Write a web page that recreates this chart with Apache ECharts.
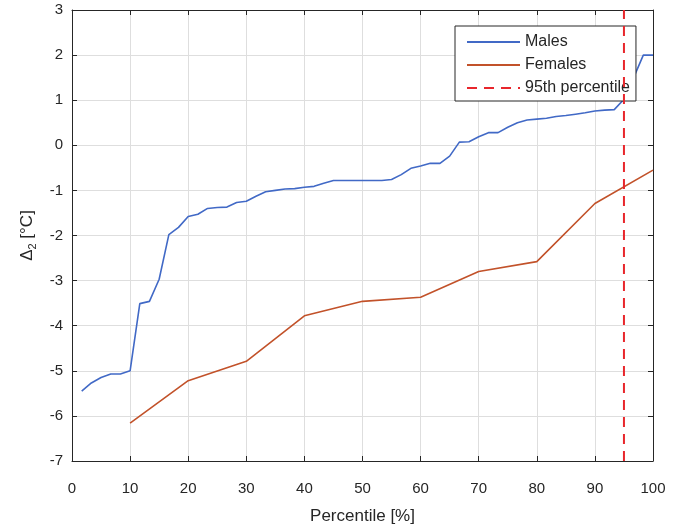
<!DOCTYPE html>
<html>
<head>
<meta charset="utf-8">
<script src="https://cdn.jsdelivr.net/npm/echarts@6/dist/echarts.min.js"></script>
<style>html,body{margin:0;padding:0;background:#fff}#c{width:680px;height:530px}</style>
</head>
<body>
<div id="c"></div>
<script>
// Males: percentile (x) and Δ2 (y)
var malesX = [1.67,3.33,5,6.67,8.33,10,11.67,13.33,15,16.67,18.33,20,21.67,23.33,25,26.67,28.33,30,31.67,33.33,35,36.67,38.33,40,41.67,43.33,45,46.67,48.33,50,51.67,53.33,55,56.67,58.33,60,61.67,63.33,65,66.67,68.33,70,71.67,73.33,75,76.67,78.33,80,81.67,83.33,85,86.67,88.33,90,91.67,93.33,95,96.67,98.33,100];
var malesY = [-5.45,-5.27,-5.15,-5.07,-5.07,-5.0,-3.51,-3.46,-2.97,-1.98,-1.82,-1.58,-1.53,-1.40,-1.38,-1.37,-1.27,-1.24,-1.13,-1.03,-1.0,-0.97,-0.96,-0.93,-0.91,-0.84,-0.78,-0.78,-0.78,-0.78,-0.78,-0.78,-0.76,-0.65,-0.51,-0.46,-0.40,-0.40,-0.24,0.07,0.08,0.19,0.28,0.28,0.40,0.50,0.56,0.58,0.60,0.64,0.66,0.69,0.72,0.76,0.78,0.79,1.02,1.5,2.0,2.0];
// Females
var femalesX = [10,20,30,40,50,60,70,80,90,100];
var femalesY = [-6.16,-5.22,-4.79,-3.78,-3.46,-3.37,-2.80,-2.58,-1.29,-0.55];
// 95th percentile marker
var p95 = 95;
var yRange = [-7, 3];
var xRange = [0, 100];

function pairs(xs, ys){ return xs.map(function(x,i){ return [x, ys[i]]; }); }

var FONT = 'Liberation Sans, Arial, Helvetica, sans-serif';
var AX = '#262626';
var GRID = '#dedede';
var chart = echarts.init(document.getElementById('c'), null, {renderer:'canvas'});
function xAx(extra){
  return Object.assign({
    type:'value', min:xRange[0], max:xRange[1], interval:10,
    axisLine:{show:true, onZero:false, lineStyle:{color:AX, width:1}},
    axisTick:{show:true, inside:true, length:5, lineStyle:{color:AX, width:1}},
    axisLabel:{show:false},
    splitLine:{show:false}
  }, extra);
}
function yAx(extra){
  return Object.assign({
    type:'value', min:yRange[0], max:yRange[1], interval:1,
    axisLine:{show:true, onZero:false, lineStyle:{color:AX, width:1}},
    axisTick:{show:true, inside:true, length:5, lineStyle:{color:AX, width:1}},
    axisLabel:{show:false},
    splitLine:{show:false}
  }, extra);
}
chart.setOption({
  animation:false,
  backgroundColor:'#fff',
  textStyle:{fontFamily:FONT},
  grid:{left:72, right:27, top:10, bottom:62, containLabel:false},
  legend:{
    orient:'vertical', left:455, top:26,
    itemWidth:53, itemHeight:14, itemGap:7,
    padding:[8,6,5,11],
    borderColor:'#262626', borderWidth:1, backgroundColor:'#fff',
    itemStyle:{opacity:0},
    textStyle:{fontSize:16, color:'#262626', fontFamily:FONT, lineHeight:16},
    data:['Males','Females','95th percentile']
  },
  xAxis:[
    xAx({
      position:'bottom',
      name:'Percentile [%]', nameLocation:'middle', nameGap:47,
      nameTextStyle:{fontSize:17, color:AX, fontFamily:FONT},
      axisLabel:{show:true, fontSize:15, color:AX, margin:20, fontFamily:FONT},
      splitLine:{show:true, lineStyle:{color:GRID, width:1}}
    }),
    xAx({position:'top'})
  ],
  yAxis:[
    yAx({
      position:'left',
      axisLabel:{show:true, fontSize:15, color:AX, margin:9, fontFamily:FONT},
      splitLine:{show:true, lineStyle:{color:GRID, width:1}},
      name:'{a|Δ}{s|2}{a| [°C]}', nameLocation:'middle', nameGap:25, nameRotate:90,
      nameTextStyle:{
        color:AX, fontFamily:FONT, fontSize:17,
        rich:{
          a:{fontSize:17, color:AX, fontFamily:FONT, lineHeight:22},
          s:{fontSize:11, color:AX, fontFamily:FONT, lineHeight:10, verticalAlign:'bottom'}
        }
      }
    }),
    yAx({position:'right'})
  ],
  series:[
    {
      name:'Males', type:'line', data:pairs(malesX, malesY),
      showSymbol:false, symbol:'none', z:3,
      lineStyle:{color:'#4169C6', width:1.6}, itemStyle:{color:'#4169C6'}
    },
    {
      name:'Females', type:'line', data:pairs(femalesX, femalesY),
      showSymbol:false, symbol:'none', z:3,
      lineStyle:{color:'#C2522A', width:1.6}, itemStyle:{color:'#C2522A'}
    },
    {
      name:'95th percentile', type:'line', data:[[p95, yRange[0]],[p95, yRange[1]]],
      showSymbol:false, symbol:'none', z:4,
      lineStyle:{color:'#E8262C', width:2, type:[10,7]}, itemStyle:{color:'#E8262C'}
    }
  ]
});
</script>
</body>
</html>
